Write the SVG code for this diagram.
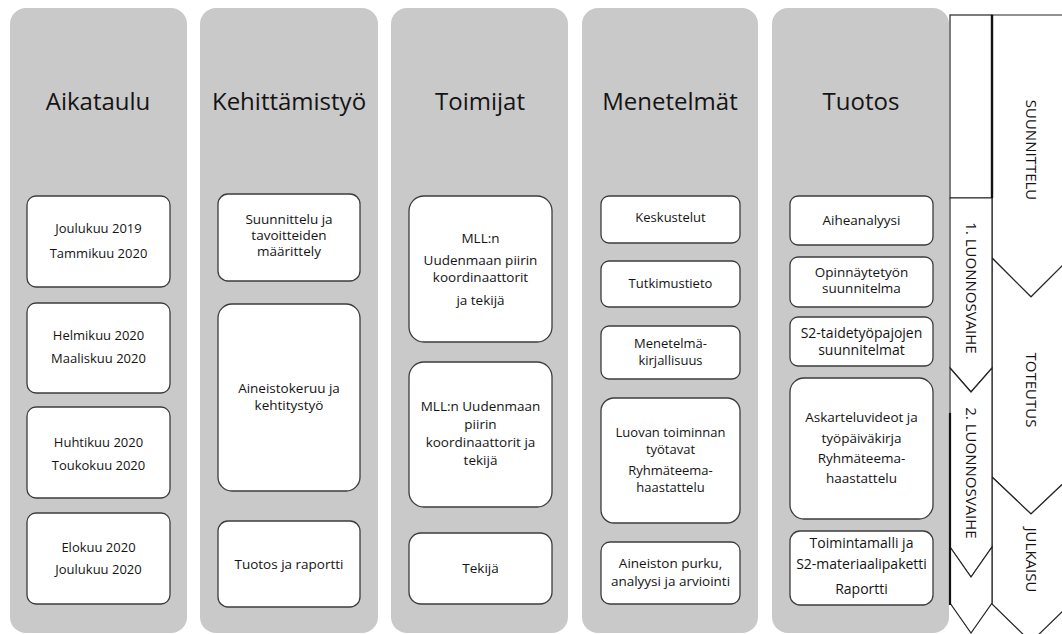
<svg xmlns="http://www.w3.org/2000/svg" width="1062" height="634" viewBox="0 0 1062 634">
<style>
.col{fill:#c9c9c9;stroke:none}
.box{fill:#ffffff;stroke:#3c3c3c;stroke-width:1.3}
.chev{fill:#ffffff;stroke:#262626;stroke-width:1.2;stroke-linejoin:miter}
text{font-family:"Open Sans","Noto Sans","Liberation Sans",sans-serif;fill:#141414;text-anchor:middle}
.title{font-size:24px}
.t13{font-size:13px}
.t135{font-size:13.5px}
.t14{font-size:14px}
.t145{font-size:14.5px}
.rot{font-size:15px}
</style>
<rect width="1062" height="634" fill="#ffffff"/>

<g id="columns">
  <rect class="col" x="10" y="8" width="177" height="625" rx="16"/>
  <rect class="col" x="200" y="8" width="178" height="625" rx="16"/>
  <rect class="col" x="391" y="8" width="177" height="625" rx="16"/>
  <rect class="col" x="582" y="8" width="176" height="625" rx="16"/>
  <rect class="col" x="772" y="8" width="177" height="625" rx="16"/>
</g>

<g id="titles">
  <text class="title" x="98" y="110">Aikataulu</text>
  <text class="title" x="289" y="110">Kehittämistyö</text>
  <text class="title" x="480" y="110">Toimijat</text>
  <text class="title" x="670" y="110">Menetelmät</text>
  <text class="title" x="861" y="110">Tuotos</text>
</g>

<!-- Aikataulu -->
<g id="aika1"><rect class="box" x="27" y="196" width="143" height="91" rx="9"/>
  <text class="t13" x="98.5" y="233">Joulukuu 2019</text><text class="t13" x="98.5" y="258">Tammikuu 2020</text></g>
<g id="aika2"><rect class="box" x="27" y="303" width="143" height="90" rx="9"/>
  <text class="t13" x="98.5" y="340">Helmikuu 2020</text><text class="t13" x="98.5" y="363">Maaliskuu 2020</text></g>
<g id="aika3"><rect class="box" x="27" y="407" width="143" height="91" rx="9"/>
  <text class="t13" x="98.5" y="447">Huhtikuu 2020</text><text class="t13" x="98.5" y="470">Toukokuu 2020</text></g>
<g id="aika4"><rect class="box" x="27" y="513" width="143" height="91" rx="9"/>
  <text class="t13" x="98.5" y="552">Elokuu 2020</text><text class="t13" x="98.5" y="574">Joulukuu 2020</text></g>

<!-- Kehittämistyö -->
<g id="keh1"><rect class="box" x="218" y="194" width="142" height="87" rx="10"/>
  <text class="t135" x="289" y="224">Suunnittelu ja</text><text class="t135" x="289" y="240">tavoitteiden</text><text class="t135" x="289" y="256">määrittely</text></g>
<g id="keh2"><rect class="box" x="218" y="304" width="142" height="187" rx="14"/>
  <text class="t135" x="289" y="393">Aineistokeruu ja</text><text class="t135" x="289" y="410">kehtitystyö</text></g>
<g id="keh3"><rect class="box" x="218" y="521" width="142" height="86" rx="10"/>
  <text class="t135" x="289" y="569">Tuotos ja raportti</text></g>

<!-- Toimijat -->
<g id="toim1"><rect class="box" x="409" y="196" width="143" height="146" rx="15"/>
  <text class="t135" x="480.5" y="243">MLL:n</text><text class="t135" x="480.5" y="265">Uudenmaan piirin</text><text class="t135" x="480.5" y="282">koordinaattorit</text><text class="t135" x="480.5" y="305">ja tekijä</text></g>
<g id="toim2"><rect class="box" x="409" y="362" width="143" height="145" rx="15"/>
  <text class="t135" x="480.5" y="411">MLL:n Uudenmaan</text><text class="t135" x="480.5" y="429">piirin</text><text class="t135" x="480.5" y="447">koordinaattorit ja</text><text class="t135" x="480.5" y="465">tekijä</text></g>
<g id="toim3"><rect class="box" x="409" y="533" width="143" height="71" rx="12"/>
  <text class="t135" x="480.5" y="573">Tekijä</text></g>

<!-- Menetelmät -->
<g id="men1"><rect class="box" x="601" y="196" width="139" height="47" rx="8"/>
  <text class="t13" x="670.5" y="222">Keskustelut</text></g>
<g id="men2"><rect class="box" x="601" y="261" width="139" height="46" rx="8"/>
  <text class="t13" x="670.5" y="288">Tutkimustieto</text></g>
<g id="men3"><rect class="box" x="601" y="326" width="139" height="53" rx="8"/>
  <text class="t13" x="670.5" y="348">Menetelmä-</text><text class="t13" x="670.5" y="365">kirjallisuus</text></g>
<g id="men4"><rect class="box" x="601" y="398" width="139" height="125" rx="13"/>
  <text class="t13" x="670.5" y="437">Luovan toiminnan</text><text class="t13" x="670.5" y="454">työtavat</text><text class="t13" x="670.5" y="475">Ryhmäteema-</text><text class="t13" x="670.5" y="492">haastattelu</text></g>
<g id="men5"><rect class="box" x="601" y="542" width="139" height="62" rx="9"/>
  <text class="t135" x="670.5" y="568">Aineiston purku,</text><text class="t135" x="670.5" y="586">analyysi ja arviointi</text></g>

<!-- Tuotos -->
<g id="tuo1"><rect class="box" x="790" y="196" width="143" height="49" rx="8"/>
  <text class="t135" x="861.5" y="225">Aiheanalyysi</text></g>
<g id="tuo2"><rect class="box" x="790" y="257" width="143" height="50" rx="8"/>
  <text class="t135" x="861.5" y="277">Opinnäytetyön</text><text class="t135" x="861.5" y="293">suunnitelma</text></g>
<g id="tuo3"><rect class="box" x="790" y="317" width="143" height="49" rx="8"/>
  <text class="t14" x="861.5" y="338">S2-taidetyöpajojen</text><text class="t14" x="861.5" y="355">suunnitelmat</text></g>
<g id="tuo4"><rect class="box" x="790" y="378" width="143" height="141" rx="14"/>
  <text class="t135" x="861.5" y="422">Askarteluvideot ja</text><text class="t135" x="861.5" y="443">työpäiväkirja</text><text class="t135" x="861.5" y="463">Ryhmäteema-</text><text class="t135" x="861.5" y="483">haastattelu</text></g>
<g id="tuo5"><rect class="box" x="790" y="531" width="143" height="74" rx="10"/>
  <text class="t14" x="861.5" y="548">Toimintamalli ja</text><text class="t14" x="861.5" y="569">S2-materiaalipaketti</text><text class="t14" x="861.5" y="594">Raportti</text></g>

<!-- Phase chevrons -->
<g id="phases-outer">
  <g id="suunnittelu">
    <polygon class="chev" points="992,15 1070,15 1070,258 1031,297 992,258"/>
    <text class="rot" transform="translate(1031,150) rotate(90)" x="0" y="5.3">SUUNNITTELU</text>
  </g>
  <g id="toteutus">
    <polygon class="chev" points="992,258 1031,297 1070,258 1070,477 1031,514 992,477"/>
    <text class="rot" transform="translate(1031,390) rotate(90)" x="0" y="5.3">TOTEUTUS</text>
  </g>
  <g id="julkaisu">
    <polygon class="chev" points="992,477 1031,514 1070,477 1070,604 1031,642 992,604"/>
    <text class="rot" transform="translate(1031,560) rotate(90)" x="0" y="5.3">JULKAISU</text>
  </g>
</g>
<g id="phases-inner">
  <g id="blank-top">
    <rect class="chev" x="950" y="15" width="42" height="183"/>
  </g>
  <g id="luonnos1">
    <polygon class="chev" points="950,198 992,198 992,368 971,392 950,368"/>
    <text class="rot" transform="translate(971,288) rotate(90)" x="0" y="5.3">1. LUONNOSVAIHE</text>
  </g>
  <g id="luonnos2">
    <polygon class="chev" points="950,368 971,392 992,368 992,547 971,577 950,547"/>
    <text class="rot" transform="translate(971,473) rotate(90)" x="0" y="5.3">2. LUONNOSVAIHE</text>
  </g>
  <g id="luonnos3">
    <polygon class="chev" points="950,547 971,577 992,547 992,603 971,633 950,603"/>
  </g>
  <line x1="992" y1="15" x2="992" y2="198" stroke="#111" stroke-width="2.4"/>
  <line x1="950" y1="413" x2="950" y2="605" stroke="#111" stroke-width="2.2"/>
</g>
</svg>
